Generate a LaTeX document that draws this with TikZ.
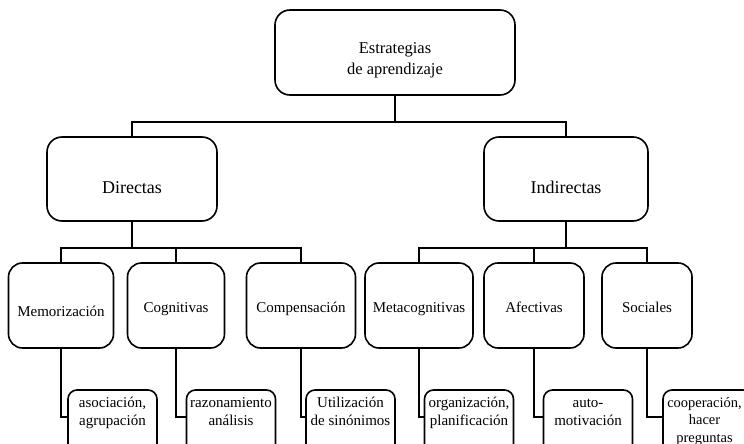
\documentclass[tikz,border=0pt]{standalone}
\usepackage{fontspec}
\setmainfont{Liberation Serif}
\usetikzlibrary{calc}
\begin{document}
\begin{tikzpicture}[x=1pt,y=-1pt,
  box/.style={draw,line width=1.6pt,rounded corners=15pt,inner sep=0pt,outer sep=0pt},
  leafbox/.style={draw,line width=1.6pt,rounded corners=9pt,inner sep=0pt,outer sep=0pt,
    minimum width=89pt,minimum height=85pt},
  midbox/.style={box,rounded corners=14pt,minimum height=85pt},
  txt/.style={inner sep=0pt,anchor=base,font=\fontsize{15}{18}\selectfont},
  bigtxt/.style={inner sep=0pt,anchor=base,font=\fontsize{18}{21}\selectfont},
  toptxt/.style={inner sep=0pt,anchor=north,align=center,font=\fontsize{16.5}{21}\selectfont},
  leaftxt/.style={inner sep=0pt,anchor=north,align=center,font=\fontsize{15}{18}\selectfont},
  conn/.style={line width=1.6pt}]
\useasboundingbox (0,0) rectangle (744,444);
\clip (0,0) rectangle (744,444);
% top
\node[box,minimum width=240pt,minimum height=85pt] (top) at (395,52.5) {};
\node[toptxt] (ttop) at (395,38.3) {\strut Estrategias\\de aprendizaje};
% level 2
\node[box,minimum width=170pt,minimum height=84pt] (dir) at (132,179) {};
\node[box,minimum width=164pt,minimum height=84pt] (ind) at (566,179) {};
\node[bigtxt] (tdir) at (132,193) {Directas};
\node[bigtxt] (tind) at (566,193) {Indirectas};
% level 3
\node[midbox,minimum width=105pt] (mem) at (61,305.5) {};
\node[midbox,minimum width=97pt] (cog) at (176,305.5) {};
\node[midbox,minimum width=109pt] (comp) at (301,305.5) {};
\node[midbox,minimum width=108pt] (meta) at (419,305.5) {};
\node[midbox,minimum width=100pt] (afec) at (534,305.5) {};
\node[midbox,minimum width=90pt] (soc) at (647,305.5) {};
\node[txt] (tmem) at (61,316.5) {Memorización};
\node[txt] (tcog) at (176,312) {Cognitivas};
\node[txt] (tcomp) at (301,312) {Compensación};
\node[txt] (tmeta) at (419,312) {Metacognitivas};
\node[txt] (tafec) at (534,312) {Afectivas};
\node[txt] (tsoc) at (647,312) {Sociales};
% leaves
\node[leafbox] (l1) at (112.5,432.5) {};
\node[leafbox] (l2) at (231,432.5) {};
\node[leafbox] (l3) at (350.5,432.5) {};
\node[leafbox] (l4) at (469,432.5) {};
\node[leafbox] (l5) at (588,432.5) {};
\node[leafbox] (l6) at (707.5,432.5) {};
\node[leaftxt] (tl1) at (112.5,395) {\strut asociación,\\agrupación};
\node[leaftxt] (tl2) at (231,395) {\strut razonamiento\\análisis};
\node[leaftxt] (tl3) at (350.5,395) {\strut Utilización\\de sinónimos};
\node[leaftxt] (tl4) at (469,395) {\strut organización,\\planificación};
\node[leaftxt] (tl5) at (588,395) {\strut auto-\\motivación};
\node[leaftxt,font=\fontsize{14.5}{17.5}\selectfont] (tl6) at (704.5,395) {\strut cooperación,\\hacer\\preguntas};
% connectors
\draw[conn] (top.south) -- ++(0,27);
\draw[conn] (dir.north) -- ++(0,-15) -| (ind.north);
\draw[conn] (dir.south) -- ++(0,27);
\draw[conn] (mem.north) -- ++(0,-15) -| (comp.north);
\draw[conn] (cog.north) -- ++(0,-15);
\draw[conn] (ind.south) -- ++(0,27);
\draw[conn] (meta.north) -- ++(0,-15) -| (soc.north);
\draw[conn] (afec.north) -- ++(0,-15);
\draw[conn] (mem.south) |- ($(l1.north west)+(0,27)$);
\draw[conn] (cog.south) |- ($(l2.north west)+(0,27)$);
\draw[conn] (comp.south) |- ($(l3.north west)+(0,27)$);
\draw[conn] (meta.south) |- ($(l4.north west)+(0,27)$);
\draw[conn] (afec.south) |- ($(l5.north west)+(0,27)$);
\draw[conn] (soc.south) |- ($(l6.north west)+(0,27)$);
\end{tikzpicture}
\end{document}
